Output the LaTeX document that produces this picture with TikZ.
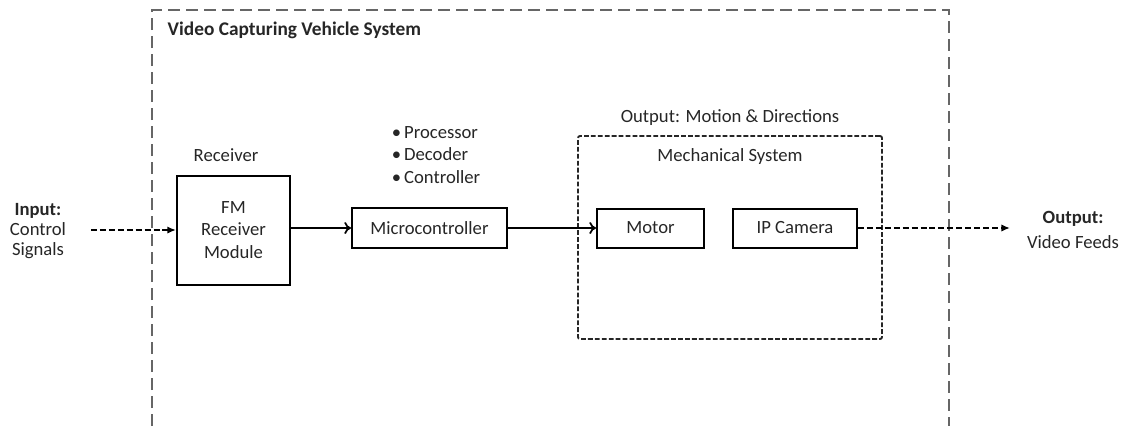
\documentclass[tikz,border=0pt]{standalone}
\usepackage{fontspec}
\setmainfont{Carlito}
\usetikzlibrary{arrows.meta}
\begin{document}
\begin{tikzpicture}[
  x=0.75pt, y=-0.75pt,
  every node/.style={font=\fontsize{14}{15}\selectfont, text=black!85},
  block/.style={draw, line width=1.5pt, inner sep=0pt},
  frame/.style={draw=black!60, line width=1.1pt, dash pattern=on 9pt off 4.5pt},
  group/.style={draw=black!85, line width=1.4pt, dash pattern=on 3.6pt off 1.6pt,
    rounded corners=1.5pt, inner sep=0pt},
  sig/.style={line width=1.3pt, -{To[length=5pt,width=9pt]}},
  feed/.style={line width=1.3pt, dash pattern=on 4.5pt off 2.2pt,
    -{Latex[length=6.5pt,width=5.5pt]}}
]
\useasboundingbox (0,0) rectangle (1126,426);
% system frame, open at the bottom
\draw[frame] (152,426) -- (152,10) -- (949,10) -- (949,426);
\node[anchor=west, font=\fontsize{14.5}{15}\selectfont\bfseries] (title) at (163,30)
  {Video Capturing Vehicle System};

% input side
\node[align=center] (input) at (38,231)
  {\textbf{Input:}\\Control\\Signals};
\coordinate (inend) at (91,230);
\node (rxlabel) at (226,155) {Receiver};
\node[block, align=center, minimum width=84.75pt, minimum height=81.75pt] (fm)
  at (233.5,230) {FM\\[2pt]Receiver\\[2pt]Module};

% controller
\node[block, minimum width=116.25pt, minimum height=30pt] (mcu) at (429.5,228)
  {Microcontroller};
\node[align=left, font=\fontsize{14}{17}\selectfont] (tasks) at (436,155)
  {\textbullet\,Processor\\\textbullet\,Decoder\\\textbullet\,Controller};

% mechanical part
\node[group, minimum width=228pt, minimum height=152.25pt] (mech) at (730,237.5) {};
\node (outlabel) at (730,118) {Output: Motion \& Directions};
\node (mechlabel) at (730,157) {Mechanical System};
\node[block, minimum width=80.25pt, minimum height=29.25pt] (motor) at (650.5,228)
  {Motor};
\node[block, minimum width=93pt, minimum height=29.25pt] (cam) at (795,228)
  {IP Camera};

% output side
\coordinate (outend) at (1010,228);
\node[align=center] (output) at (1073,230)
  {\textbf{Output:}\\[4pt]Video Feeds};

\draw[feed] (inend) -- (fm.west |- inend);
\draw[sig] (fm.east |- mcu) -- (mcu.west);
\draw[sig] (mcu.east |- motor) -- (motor.west);
\draw[feed] (cam.east) -- (outend);
\end{tikzpicture}
\end{document}
